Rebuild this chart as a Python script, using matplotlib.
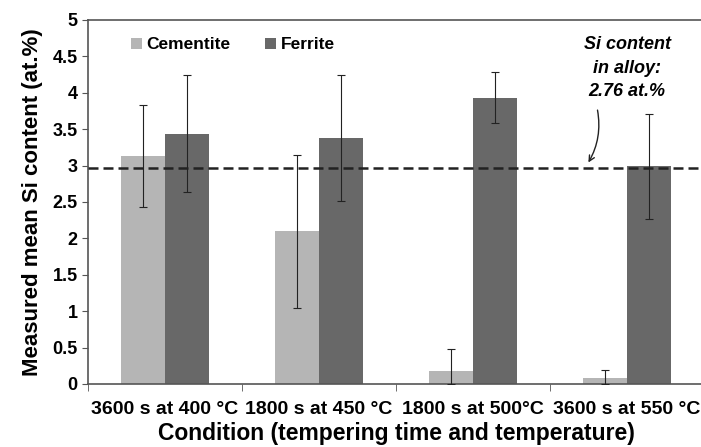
import matplotlib.pyplot as plt
import numpy as np

plt.rcParams['font.family'] = ['Liberation Sans', 'DejaVu Sans']

conditions = ["3600 s at 400 °C", "1800 s at 450 °C", "1800 s at 500°C", "3600 s at 550 °C"]
cementite = [3.13, 2.10, 0.18, 0.08]
cementite_err = [0.70, 1.05, 0.30, 0.11]
ferrite = [3.44, 3.38, 3.93, 2.99]
ferrite_err = [0.80, 0.86, 0.35, 0.72]
alloy_si = 2.97

fig = plt.figure(figsize=(7.01, 4.47), dpi=100)
ax = fig.add_axes([88 / 701, 1 - 384 / 447, 616 / 701, 364 / 447])

x = np.arange(len(conditions))
w = 0.285
ax.bar(x - w / 2, cementite, w, color="#b5b5b5", label="Cementite", zorder=2)
ax.bar(x + w / 2, ferrite, w, color="#686868", label="Ferrite", zorder=2)
# lower error of cementite clipped at zero
low = [min(c, e) for c, e in zip(cementite, cementite_err)]
ax.errorbar(x - w / 2, cementite, yerr=[low, cementite_err],
            fmt="none", ecolor="#222222", elinewidth=0.8, capsize=3, capthick=0.8, zorder=3)
ax.errorbar(x + w / 2, ferrite, yerr=ferrite_err,
            fmt="none", ecolor="#222222", elinewidth=0.8, capsize=3, capthick=0.8, zorder=3)
ax.axhline(alloy_si, color="#222222", ls=(0, (4, 2)), lw=1.8, zorder=4)

ax.set_xlim(-0.5, len(conditions) - 0.5)
ax.set_ylim(0, 5)
ax.set_yticks(np.arange(0, 5.01, 0.5))
ax.set_yticklabels(["0", "0.5", "1", "1.5", "2", "2.5", "3", "3.5", "4", "4.5", "5"],
                   fontsize=13, fontweight="bold")
ax.set_xticks(x)
ax.set_xticklabels(conditions, fontsize=14, fontweight="bold")
ax.set_xticks(np.arange(-0.5, len(conditions), 1), minor=True)
ax.tick_params(axis="x", which="major", length=0, pad=12)
ax.tick_params(axis="x", which="minor", length=5, color="#555555")
ax.tick_params(axis="y", length=4, color="#555555")

for s in ["left", "bottom", "top"]:
    ax.spines[s].set_color("#555555")
    ax.spines[s].set_linewidth(1.2)
ax.spines["right"].set_visible(False)

ax.set_ylabel("Measured mean Si content (at.%)", fontsize=16, fontweight="bold", labelpad=7)
ax.set_xlabel("Condition (tempering time and temperature)", fontsize=16.5, fontweight="bold", labelpad=3)

ax.legend(loc="upper left", bbox_to_anchor=(0.044, 0.995), ncol=2, frameon=False,
          prop={"weight": "bold", "size": 12.5}, handlelength=0.65, handleheight=0.65,
          handletextpad=0.25, columnspacing=2.0)

ax.text(3.0, 4.34, "Si content\nin alloy:\n2.76 at.%", ha="center", va="center",
        fontsize=13, fontweight="bold", style="italic", linespacing=1.5)
ax.annotate("", xy=(2.74, alloy_si + 0.04), xytext=(2.805, 3.8),
            arrowprops=dict(arrowstyle="->", color="#222222", lw=1,
                            connectionstyle="arc3,rad=-0.2"))

fig.savefig("out.png", dpi=100)
